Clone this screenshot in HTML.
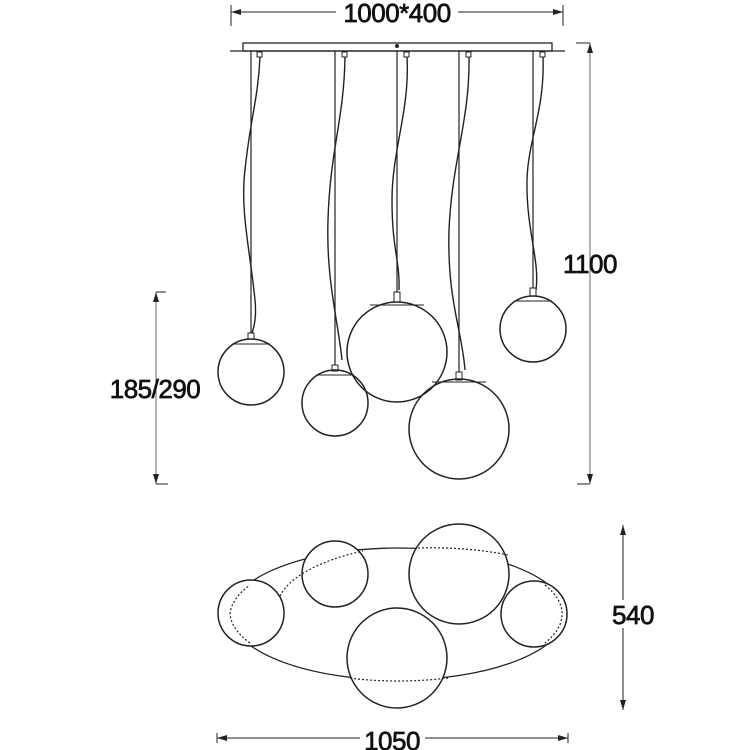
<!DOCTYPE html>
<html><head><style>
html,body{margin:0;padding:0;background:#fff;}
svg{display:block;}
text{font-family:"Liberation Sans",Arial,sans-serif;fill:#111;stroke:#111;stroke-width:0.7;letter-spacing:-0.5px;}
</style></head><body>
<svg width="750" height="750" viewBox="0 0 750 750" xmlns="http://www.w3.org/2000/svg">
<defs>
<marker id="ar" viewBox="0 0 10 6" refX="10" refY="3" markerWidth="10" markerHeight="6" orient="auto-start-reverse" markerUnits="userSpaceOnUse">
<path d="M0,0 L10,3 L0,6 z" fill="#222"/></marker>
</defs>
<g stroke="#222" fill="none" stroke-width="1.3">
<line x1="231" y1="5" x2="231" y2="26" stroke-width="1"/>
<line x1="563" y1="5" x2="563" y2="26" stroke-width="1"/>
<line x1="231" y1="12" x2="336" y2="12" marker-start="url(#ar)" stroke-width="1"/>
<line x1="458" y1="12" x2="563" y2="12" marker-end="url(#ar)" stroke-width="1"/>
<rect x="243" y="43" width="309" height="8" fill="#fff"/>
<line x1="230" y1="51" x2="565" y2="51"/>
<circle cx="397" cy="46" r="1.3" fill="#222"/>
<g stroke-width="1.2">
<line x1="251" y1="51" x2="251" y2="337"/>
<line x1="335" y1="51" x2="335" y2="369"/>
<line x1="397" y1="51" x2="397" y2="302"/>
<line x1="459" y1="51" x2="459" y2="378"/>
<line x1="533" y1="51" x2="533" y2="296"/>
</g>
<g fill="#fff" stroke-width="1">
<rect x="257" y="52" width="5" height="5"/><rect x="342" y="52" width="5" height="5"/>
<rect x="404" y="52" width="5" height="5"/><rect x="466" y="52" width="5" height="5"/>
<rect x="540" y="52" width="5" height="5"/>
</g>
<g stroke-width="1.4">
<path d="M260,57 C258,100 250,120 245,170 C240,210 250,250 255,300 C257,320 253,330 252,333"/>
<path d="M345,57 C344,120 330,150 328,220 C326,280 338,320 342,360"/>
<path d="M407,57 C410,110 392,150 392,200 C392,250 400,260 399,290"/>
<path d="M469,57 C470,120 452,160 449,230 C447,300 462,330 465,370"/>
<path d="M543,57 C545,110 528,140 527,180 C526,230 540,260 536,290"/>
</g>
<g stroke-width="1" fill="#fff">
<rect x="248" y="333" width="6" height="6"/><rect x="332" y="365" width="6" height="6"/>
<rect x="394" y="292" width="6" height="10"/><rect x="456" y="372" width="6" height="8"/>
<rect x="530" y="288" width="6" height="8"/>
</g>
<g stroke-width="1.5">
<circle cx="251" cy="372" r="33"/>
<circle cx="335" cy="403" r="33"/>
<circle cx="397" cy="352" r="50"/>
<circle cx="459" cy="429" r="50"/>
<circle cx="533" cy="329" r="33"/>
</g>
<g stroke-width="1">
<line x1="232" y1="344" x2="270" y2="344"/><line x1="316" y1="375" x2="354" y2="375"/>
<line x1="370" y1="305" x2="424" y2="305"/><line x1="432" y1="382" x2="486" y2="382"/>
<line x1="514" y1="301" x2="552" y2="301"/>
</g>
<g stroke="#666" stroke-width="1">
<line x1="156" y1="292" x2="156" y2="484" marker-start="url(#ar)" marker-end="url(#ar)"/>
<line x1="156" y1="292" x2="166" y2="292" stroke="#222"/>
<line x1="156" y1="484" x2="168" y2="484" stroke="#222"/>
<line x1="590" y1="43" x2="590" y2="484" marker-start="url(#ar)" marker-end="url(#ar)"/>
<line x1="576" y1="43" x2="590" y2="43" stroke="#222"/>
<line x1="577" y1="484" x2="590" y2="484" stroke="#222"/>
</g>
<ellipse cx="398" cy="614" rx="168" ry="66" stroke-width="1.3"/>
<g fill="#fff" stroke-width="1.5">
<circle cx="251" cy="613" r="33"/>
<circle cx="335" cy="574" r="33"/>
<circle cx="459" cy="574" r="50"/>
<circle cx="534" cy="614" r="33"/>
<circle cx="397" cy="658" r="50"/>
</g>
<g stroke-dasharray="2,2" stroke-width="1.2">
<path d="M280,596 A168,66 0 0 1 363,551"/>
<path d="M230,614 A168,66 0 0 1 250,585" />
<path d="M250,643 A168,66 0 0 1 230,614"/>
<path d="M418,548 A168,66 0 0 1 508,555"/>
<path d="M545,585 A168,66 0 0 1 545,643"/>
<path d="M448,678 A168,66 0 0 1 348,678"/>
</g>
<line x1="623" y1="525" x2="623" y2="710" stroke-width="1" marker-start="url(#ar)" marker-end="url(#ar)"/>
<line x1="217" y1="733" x2="217" y2="743" stroke-width="1"/>
<line x1="568" y1="733" x2="568" y2="743" stroke-width="1"/>
<line x1="217" y1="738" x2="360" y2="738" stroke-width="1" marker-start="url(#ar)"/>
<line x1="425" y1="738" x2="568" y2="738" stroke-width="1" marker-end="url(#ar)"/>
</g>
<rect x="600" y="600" width="66" height="28" fill="#fff"/>
<text x="397" y="22" font-size="26" text-anchor="middle">1000*400</text>
<text x="590" y="273" font-size="26" text-anchor="middle">1100</text>
<text x="155" y="398" font-size="26" text-anchor="middle">185/290</text>
<text x="633" y="624" font-size="26" text-anchor="middle">540</text>
<text x="392" y="750" font-size="26" text-anchor="middle">1050</text>
</svg>
</body></html>
